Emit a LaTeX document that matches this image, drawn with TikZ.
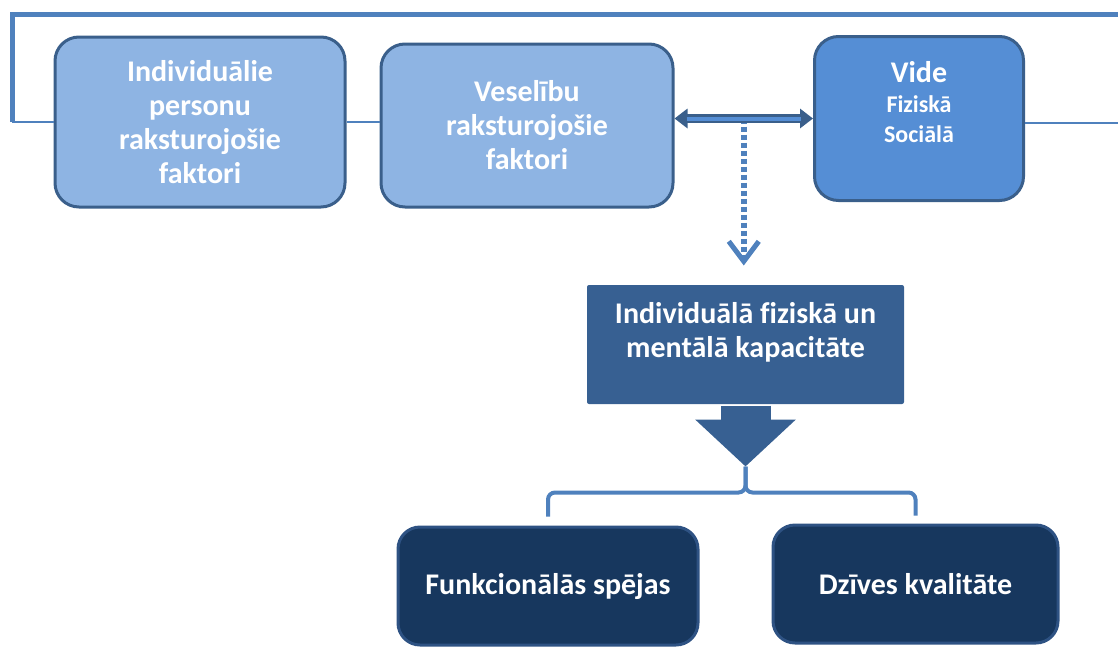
\documentclass[tikz,border=0pt]{standalone}
\usepackage{fontspec}
\setmainfont{Carlito}[Ligatures=NoCommon]
\usetikzlibrary{arrows.meta,positioning,calc}
\definecolor{light}{HTML}{8EB4E3}
\definecolor{mid}{HTML}{558ED5}
\definecolor{edge}{HTML}{3A5F8B}
\definecolor{lineblue}{HTML}{4F81BD}
\definecolor{slate}{HTML}{376092}
\definecolor{navy}{HTML}{17375E}
\definecolor{navyedge}{HTML}{2E5283}
\newcommand{\smallsz}{\fontsize{24}{29}\selectfont}
\tikzset{box/.style={draw=edge,line width=3pt,rounded corners=24pt,align=center,text=white,inner sep=0pt,font=\bfseries\fontsize{30}{34}\selectfont},link/.style={draw=lineblue,line width=2.5pt},frame/.style={draw=lineblue,line width=5pt},dotarrow/.style={draw=lineblue,line width=6pt,dash pattern=on 5pt off 3pt,shorten >=18pt,-{Straight Barb[length=20pt,width=30pt,line width=5pt]}},bracket/.style={draw=lineblue,line width=4pt,rounded corners=7pt}}
\begin{document}
\begin{tikzpicture}[x=1pt,y=-1pt]
\useasboundingbox (0,0) rectangle (1118,648);
\node[box,fill=light,minimum width=290pt,minimum height=170pt] (a) at (200,122) {Individuālie\\personu\\raksturojošie\\faktori};
\node[box,fill=light,minimum width=292pt,minimum height=163pt] (b) at (527,125.5) {Veselību\\raksturojošie\\faktori};
\node[box,fill=mid,minimum width=209pt,minimum height=164pt,text depth=34pt] (c) at (919,118.5) {Vide\\[-4pt]{\smallsz Fiziskā}\\[-4pt]{\smallsz Sociālā}};
\node[box,draw=none,fill=slate,rounded corners=2pt,minimum width=317pt,minimum height=119pt,text depth=29pt] (d) at (745.5,344.5) {Individuālā fiziskā un\\mentālā kapacitāte};
\node[box,draw=navyedge,fill=navy,rounded corners=22pt,minimum width=300pt,minimum height=118pt] (e) at (548,586) {Funkcionālās spējas};
\node[box,draw=navyedge,fill=navy,rounded corners=22pt,minimum width=285pt,minimum height=118pt] (f) at (915.5,584) {Dzīves kvalitāte};
\coordinate (loopL) at (12,122);\coordinate (loopT) at (12,14);\coordinate (loopR) at (1118,14);\coordinate (outR) at (1118,123);
\draw[link](a.west)--(loopL);\draw[frame](loopL)--(loopT)--(loopR);
\draw[link](a.east)--(a.east -| b.west);\draw[link](c.east |- outR)--(outR);
\coordinate (m) at ($(b.east)!0.5!(c.west)$);
\draw[dotarrow](m |- c.west)--(m |- d.north);
\draw[edge,line width=9pt,{Triangle[length=13pt,width=19pt]}-{Triangle[length=13pt,width=19pt]}](b.east |- c.west)--(c.west);
\draw[mid,line width=4pt,shorten <=12pt,shorten >=12pt](b.east |- c.west)--(c.west);
\coordinate (fork) at ([yshift=-61pt]d.south);
\draw[slate,line width=50pt,-{Triangle[length=47pt,width=98pt]}](d.south)--(fork);
\draw[bracket,shorten >=9pt](fork)--++(0,26)-|(e.north);
\draw[bracket,shorten >=8pt](fork)--++(0,26)-|(f.north);
\end{tikzpicture}
\end{document}
